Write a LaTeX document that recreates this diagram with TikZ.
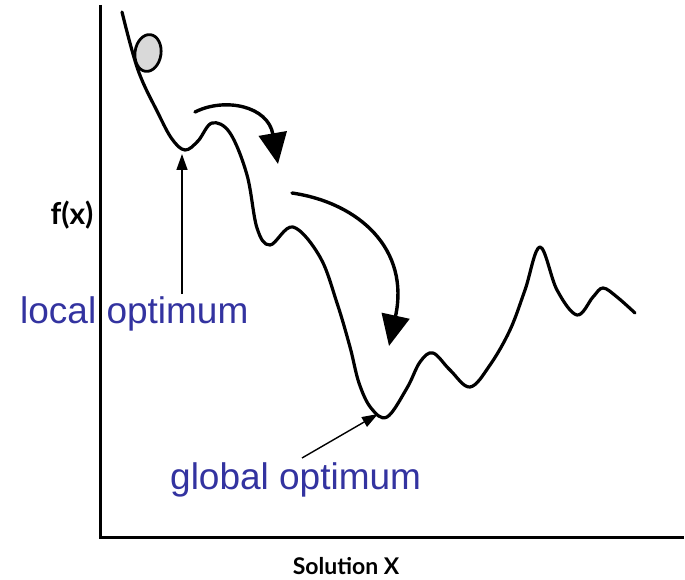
\documentclass[tikz,border=0pt]{standalone}
\usepackage{fontspec}
\setmainfont{Liberation Sans}
\newfontfamily\axisfont{Lato}
\usetikzlibrary{arrows.meta,shapes.geometric}
\definecolor{lblue}{RGB}{51,51,160}
\tikzset{
  curveline/.style={line width=3.2pt, line cap=round, line join=round},
  bigarrow/.style={line width=3.4pt, line cap=round, -{Triangle[width=28pt,length=31pt]}},
  pointer/.style={line width=1.4pt, -{Triangle[width=11pt,length=16pt]}},
  lbl/.style={text=lblue, font=\fontsize{37}{40}\selectfont, inner sep=0pt, anchor=base west},
  axislbl/.style={font=\axisfont\bfseries, inner sep=0pt}
}
\begin{document}
\begin{tikzpicture}[x=1pt,y=-1pt]
\useasboundingbox (0,0) rectangle (685,580);
\fill[white] (0,0) rectangle (685,580);
% axes
\coordinate (ytop) at (100,5);
\coordinate (origin) at (100,537);
\coordinate (xend) at (684,537);
\draw[line width=3pt] (ytop) -- (origin) -- (xend);
% landscape curve
\draw[curveline] plot[smooth, tension=0.6] coordinates {
 (122,12) (138,70) (158,113) (172,139) (185,150) (198,141) (212,123)
 (230,133) (247,175) (257,228) (270,245) (293,227) (320,257) (337,303)
 (350,347) (359,383) (371,408) (387,417) (407,388) (420,362) (433,353)
 (450,370) (470,387) (490,365) (510,330) (525,290) (540,247)
 (557,290) (577,315) (593,297) (603,288) (617,297) (635,313)};
% ball
\node[draw, line width=2.8pt, fill=gray!30, ellipse, minimum width=26pt, minimum height=37pt, inner sep=0pt, rotate=-8] (ball) at (148,53) {};
% big arrows
\coordinate (a1s) at (195,112);
\coordinate (a1e) at (278,164);
\draw[bigarrow] (a1s) .. controls (225,97) and (268,106) .. (a1e);
\coordinate (a2s) at (292,193);
\coordinate (a2e) at (389,346);
\draw[bigarrow] (a2s) .. controls (360,203) and (410,250) .. (a2e);
% labels
\node[lbl] (local) at (20,323) {local optimum};
\node[lbl] (global) at (170,489) {global optimum};
\coordinate (lmin) at (182,154);
\coordinate (lbase) at (182,294);
\draw[pointer] (lbase) -- (lmin);
\coordinate (gmin) at (378,414);
\coordinate (gbase) at (302,458);
\draw[pointer] (gbase) -- (gmin);
\node[axislbl, font=\axisfont\bfseries\fontsize{30}{32}\selectfont] (fx) at (72,215) {f(x)};
\node[axislbl, font=\axisfont\bfseries\fontsize{23}{25}\selectfont] (solx) at (346,566) {Solution X};
\end{tikzpicture}
\end{document}
